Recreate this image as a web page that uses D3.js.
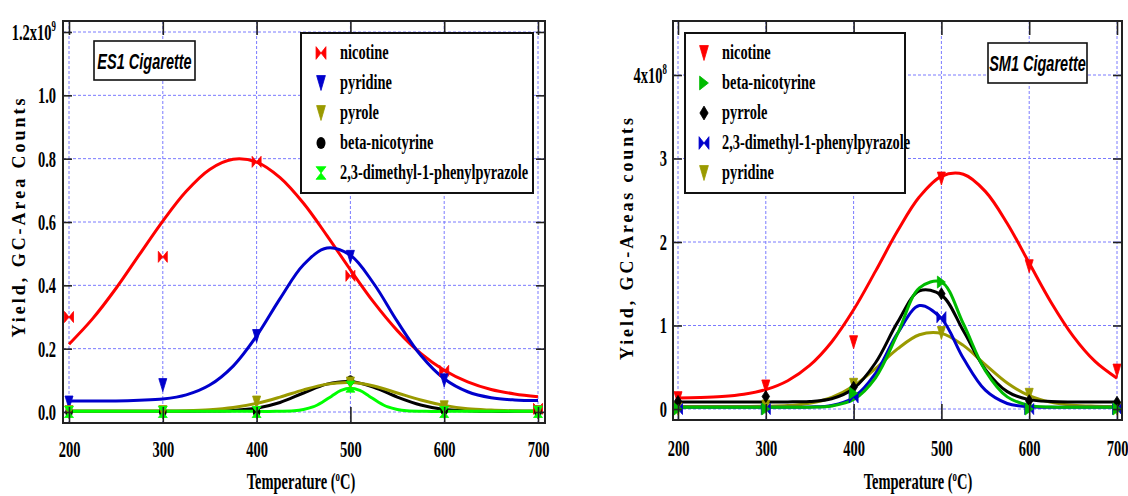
<!DOCTYPE html>
<html><head><meta charset="utf-8">
<script src="https://cdn.jsdelivr.net/npm/d3@7"></script>
<style>body{margin:0;background:#fff}svg{display:block}</style>
</head><body>
<svg id="c" width="1128" height="496"></svg>
<script>
// ---------- data ----------
const temps = [200, 300, 400, 500, 600, 700];
const xTicks = [200, 300, 400, 500, 600, 700];
const fitTemps = [200,225,250,275,300,325,350,375,400,425,450,475,500,525,550,575,600,625,650,675,700];

// ES1 Cigarette (x 1e9)
const es1YTicks = [0, 0.2, 0.4, 0.6, 0.8, 1.0, 1.2];
const es1Nicotine = [0.30, 0.49, 0.79, 0.43, 0.13, 0.01];
const es1Pyridine = [0.03, 0.085, 0.24, 0.49, 0.10, 0.0];
const es1Pyrole = [0.0, 0.0, 0.03, 0.09, 0.015, 0.0];
const es1BetaNicotyrine = [0.0, 0.0, 0.0, 0.10, 0.005, 0.0];
const es1Dimethyl = [0.0, 0.0, 0.0, 0.08, 0.0, 0.0];
const es1NicotineFit = [0.214,0.294,0.390,0.497,0.603,0.697,0.766,0.798,0.789,0.740,0.659,0.557,0.449,0.346,0.257,0.185,0.132,0.095,0.071,0.057,0.048];
const es1PyridineFit = [0.035,0.035,0.035,0.037,0.041,0.054,0.085,0.145,0.240,0.358,0.465,0.518,0.495,0.405,0.286,0.179,0.105,0.064,0.045,0.038,0.036];
const es1PyroleFit = [0.003,0.003,0.003,0.003,0.003,0.004,0.007,0.014,0.027,0.047,0.070,0.088,0.093,0.082,0.060,0.038,0.021,0.010,0.006,0.004,0.003];
const es1BetaFit = [0.002,0.002,0.002,0.002,0.002,0.002,0.003,0.005,0.012,0.030,0.060,0.088,0.096,0.078,0.047,0.022,0.008,0.004,0.002,0.002,0.002];
const es1DimethylFitTemps = [200,300,400,420,440,450,460,470,480,490,500,510,520,530,540,550,560,580,600,700];
const es1DimethylFit = [0.002,0.002,0.002,0.002,0.004,0.008,0.016,0.031,0.050,0.068,0.075,0.068,0.050,0.031,0.016,0.008,0.004,0.002,0.002,0.002];

// SM1 Cigarette (x 1e8)
const sm1YTicks = [0, 1, 2, 3, 4];
const sm1Nicotine = [0.13, 0.27, 0.80, 2.76, 1.71, 0.46];
const sm1BetaNicotyrine = [0.0, 0.0, 0.19, 1.52, 0.0, 0.0];
const sm1Pyrrole = [0.09, 0.15, 0.26, 1.38, 0.10, 0.08];
const sm1Dimethyl = [0.0, 0.0, 0.14, 1.10, 0.0, 0.0];
const sm1Pyridine = [0.0, 0.03, 0.29, 0.91, 0.17, 0.0];
const sm1NicotineFit = [0.132,0.137,0.149,0.176,0.232,0.339,0.522,0.803,1.188,1.651,2.131,2.541,2.787,2.811,2.606,2.222,1.748,1.276,0.873,0.570,0.369];
const sm1BetaFit = [0.02,0.02,0.02,0.02,0.02,0.02,0.022,0.036,0.113,0.374,0.899,1.450,1.520,1.021,0.460,0.145,0.043,0.023,0.02,0.02,0.02];
const sm1PyrroleFit = [0.085,0.085,0.085,0.085,0.085,0.085,0.091,0.122,0.245,0.554,1.037,1.415,1.366,0.936,0.475,0.208,0.112,0.089,0.085,0.085,0.085];
const sm1DimethylFit = [0.02,0.02,0.02,0.02,0.02,0.02,0.024,0.042,0.139,0.427,0.905,1.239,1.083,0.607,0.225,0.066,0.026,0.02,0.02,0.02,0.02];
const sm1PyridineFit = [0.03,0.03,0.03,0.03,0.033,0.042,0.069,0.138,0.275,0.484,0.720,0.889,0.906,0.762,0.531,0.311,0.159,0.079,0.045,0.034,0.03];

// ---------- styling ----------
const SERIF = "'Liberation Serif','Times New Roman',serif";
const SANS = "'Liberation Sans',Arial,sans-serif";
const TSX = 0.63;   // horizontal squeeze of tick / title text
const LSX = 0.72;   // horizontal squeeze of legend text
const RED = "#ff0000", BLUE = "#0000cc", OLIVE = "#9a9a00", BLACK = "#000000", LGREEN = "#00ff00", DGREEN = "#00bb00";
const GRID = "#7a7aff";

const svg = d3.select("#c");

function markerPath(type, w, h) {
  const a = w / 2, b = h / 2;
  switch (type) {
    case "bowtie": return `M${-a},${-b}L0,0L${-a},${b}ZM${a},${-b}L0,0L${a},${b}Z`;
    case "hourglass": return `M${-a},${-b}L${a},${-b}L0,0ZM${-a},${b}L${a},${b}L0,0Z`;
    case "down": return `M${-a},${-b}L${a},${-b}L0,${b}Z`;
    case "right": return `M${-a},${-b}L${a},0L${-a},${b}Z`;
    case "diamond": return `M0,${-b}L${a},0L0,${b}L${-a},0Z`;
  }
  return null;
}
function drawMarker(g, type, color, cx, cy, big) {
  if (type === "circle") {
    g.append("ellipse").attr("cx", cx).attr("cy", cy).attr("rx", big ? 4.5 : 3.8).attr("ry", big ? 6 : 5.2).attr("fill", color);
    return;
  }
  const dims = {bowtie: [9, 11], hourglass: [9, 11], down: [8, 13], right: [8, 12], diamond: [7.5, 12]}[type];
  const w = dims[0] * (big ? 1.1 : 1), h = dims[1] * (big ? 1.15 : 1);
  g.append("path").attr("d", markerPath(type, w, h)).attr("transform", `translate(${cx},${cy})`)
    .attr("fill", color).attr("stroke", color).attr("stroke-width", 0.8).attr("stroke-linejoin", "round");
}

function squeezedText(g, x, y, str, size, sx, anchor, family, style) {
  return g.append("text").attr("transform", `translate(${x},${y}) scale(${sx},1)`)
    .attr("text-anchor", anchor || "start").attr("font-family", family || SERIF)
    .attr("font-size", size).attr("font-weight", "bold").attr("font-style", style || "normal")
    .attr("fill", "#000").text(str);
}

function panel(cfg) {
  const g = svg.append("g");
  const x = d3.scaleLinear().domain([200, 700]).range(cfg.xr);
  const y = d3.scaleLinear().domain(cfg.yd).range(cfg.yr);
  const [fx0, fx1] = cfg.fx, [fy0, fy1] = cfg.fy;

  // grid
  const grid = g.append("g").attr("stroke", GRID).attr("stroke-width", 1).attr("stroke-dasharray", "3,2");
  grid.selectAll("line.v").data(xTicks).join("line").attr("class", "v")
    .attr("x1", d => x(d)).attr("x2", d => x(d)).attr("y1", fy0).attr("y2", fy1);
  grid.selectAll("line.h").data(cfg.yTicks).join("line").attr("class", "h")
    .attr("x1", fx0).attr("x2", fx1).attr("y1", d => y(d)).attr("y2", d => y(d));

  // curves
  const line = d3.line().x(d => x(d[0])).y(d => y(d[1])).curve(d3.curveCatmullRom.alpha(0.5));
  cfg.series.forEach(s => {
    const pts = s.fitT.map((t, i) => [t, s.fit[i]]);
    g.append("path").attr("d", line(pts)).attr("fill", "none").attr("stroke", s.color)
      .attr("stroke-width", 3).attr("stroke-linejoin", "round");
  });
  // markers
  cfg.series.forEach(s => {
    const mg = g.append("g");
    temps.forEach((t, i) => drawMarker(mg, s.marker, s.color, x(t), y(s.vals[i]), false));
  });

  // frame
  g.append("rect").attr("x", fx0).attr("y", fy0).attr("width", fx1 - fx0).attr("height", fy1 - fy0)
    .attr("fill", "none").attr("stroke", "#222").attr("stroke-width", 2);

  // axes
  const style = a => a.attr("color", "#222").attr("font-family", SERIF).attr("font-size", 23).attr("font-weight", "bold")
    .call(s => s.select(".domain").remove()).call(s => s.selectAll(".tick line").attr("stroke-width", 1.6));
  const ax = g.append("g").attr("transform", `translate(0,${fy1})`)
    .call(d3.axisBottom(x).tickValues(xTicks).tickSize(-16).tickFormat(d3.format("d"))).call(style);
  ax.selectAll(".tick text").attr("y", null).attr("dy", null).attr("fill", "#000")
    .attr("transform", `translate(0,${cfg.xLabelY - fy1}) scale(${TSX},1)`);
  g.append("g").attr("transform", `translate(0,${fy0})`)
    .call(d3.axisTop(x).tickValues(xTicks).tickSize(-14).tickFormat("")).call(style);
  const ay = g.append("g").attr("transform", `translate(${fx0},0)`)
    .call(d3.axisLeft(y).tickValues(cfg.yTicks).tickSize(-9).tickFormat(cfg.yFmt)).call(style);
  ay.selectAll(".tick text").attr("x", null).attr("fill", "#000")
    .attr("transform", `translate(${cfg.yLabelX - fx0},0) scale(${TSX},1)`)
    .each(function(d) {
      if (d === cfg.yTicks[cfg.yTicks.length - 1]) {
        const t = d3.select(this);
        t.text(cfg.topLabel[0]);
        t.append("tspan").attr("font-size", 14).attr("dy", -9).text(cfg.topLabel[1]);
      }
    });
  g.append("g").attr("transform", `translate(${fx1},0)`)
    .call(d3.axisRight(y).tickValues(cfg.yTicks).tickSize(-9).tickFormat("")).call(style);

  // axis titles
  const xt = squeezedText(g, cfg.xTitle[0], cfg.xTitle[1], "Temperature (", 23, TSX, "middle");
  xt.append("tspan").attr("font-size", 14).attr("dy", -8).text("o");
  xt.append("tspan").attr("dy", 8).text("C)");
  g.append("text").attr("transform", `translate(${cfg.yTitle[0]},${cfg.yTitle[1]}) rotate(-90)`)
    .attr("text-anchor", "middle").attr("font-family", SERIF).attr("font-size", 18).attr("font-weight", "bold")
    .attr("textLength", cfg.yTitle[2]).attr("lengthAdjust", "spacing").text(cfg.yTitle[3]);

  // title box
  const tb = cfg.titleBox;
  g.append("rect").attr("x", tb[0]).attr("y", tb[1]).attr("width", tb[2]).attr("height", tb[3])
    .attr("fill", "#fff").attr("stroke", "#111").attr("stroke-width", 1.6);
  squeezedText(g, tb[0] + tb[2] / 2, tb[1] + tb[3] / 2 + 8, tb[4], 22, 0.66, "middle", SANS, "italic");

  // legend
  const lb = cfg.legend;
  g.append("rect").attr("x", lb[0]).attr("y", lb[1]).attr("width", lb[2]).attr("height", lb[3])
    .attr("fill", "#fff").attr("stroke", "#111").attr("stroke-width", 2);
  cfg.legendOrder.forEach((s, i) => {
    const cy = lb[1] + 20 + i * 30;
    drawMarker(g, s.marker, s.color, lb[4], cy, true);
    squeezedText(g, lb[5], cy + 6, s.name, 20, LSX, "start");
  });
}

// ---------- left panel ----------
const es1Series = {
  nicotine: {name: "nicotine", color: RED, marker: "bowtie", vals: es1Nicotine, fit: es1NicotineFit, fitT: fitTemps},
  pyridine: {name: "pyridine", color: BLUE, marker: "down", vals: es1Pyridine, fit: es1PyridineFit, fitT: fitTemps},
  pyrole: {name: "pyrole", color: OLIVE, marker: "down", vals: es1Pyrole, fit: es1PyroleFit, fitT: fitTemps},
  beta: {name: "beta-nicotyrine", color: BLACK, marker: "circle", vals: es1BetaNicotyrine, fit: es1BetaFit, fitT: fitTemps},
  dim: {name: "2,3-dimethyl-1-phenylpyrazole", color: LGREEN, marker: "hourglass", vals: es1Dimethyl, fit: es1DimethylFit, fitT: es1DimethylFitTemps}
};
panel({
  xr: [69, 538], yd: [0, 1.2], yr: [412, 32], fx: [63, 545], fy: [21, 423],
  yTicks: es1YTicks, yFmt: d3.format(".1f"), topLabel: ["1.2x10", "9"],
  xLabelY: 457, yLabelX: 56,
  xTitle: [301, 489], yTitle: [25, 218, 239, "Yield, GC-Area Counts"],
  titleBox: [94, 41, 101, 39, "ES1 Cigarette"],
  legend: [301, 33, 232, 160, 321, 340],
  series: [es1Series.nicotine, es1Series.pyridine, es1Series.beta, es1Series.pyrole, es1Series.dim],
  legendOrder: [es1Series.nicotine, es1Series.pyridine, es1Series.pyrole, es1Series.beta, es1Series.dim]
});

// ---------- right panel ----------
const sm1Series = {
  nicotine: {name: "nicotine", color: RED, marker: "down", vals: sm1Nicotine, fit: sm1NicotineFit, fitT: fitTemps},
  beta: {name: "beta-nicotyrine", color: DGREEN, marker: "right", vals: sm1BetaNicotyrine, fit: sm1BetaFit, fitT: fitTemps},
  pyrrole: {name: "pyrrole", color: BLACK, marker: "diamond", vals: sm1Pyrrole, fit: sm1PyrroleFit, fitT: fitTemps},
  dim: {name: "2,3-dimethyl-1-phenylpyrazole", color: BLUE, marker: "bowtie", vals: sm1Dimethyl, fit: sm1DimethylFit, fitT: fitTemps},
  pyridine: {name: "pyridine", color: OLIVE, marker: "down", vals: sm1Pyridine, fit: sm1PyridineFit, fitT: fitTemps}
};
panel({
  xr: [678, 1117], yd: [0, 4], yr: [409, 75], fx: [673, 1122], fy: [21, 420],
  yTicks: sm1YTicks, yFmt: d3.format("d"), topLabel: ["4x10", "8"],
  xLabelY: 456, yLabelX: 667,
  xTitle: [918, 489], yTitle: [633, 239, 242, "Yield, GC-Areas counts"],
  titleBox: [988, 43, 99, 40, "SM1 Cigarette"],
  legend: [685, 33, 220, 160, 704, 722],
  series: [sm1Series.nicotine, sm1Series.pyridine, sm1Series.pyrrole, sm1Series.dim, sm1Series.beta],
  legendOrder: [sm1Series.nicotine, sm1Series.beta, sm1Series.pyrrole, sm1Series.dim, sm1Series.pyridine]
});
</script>
</body></html>
